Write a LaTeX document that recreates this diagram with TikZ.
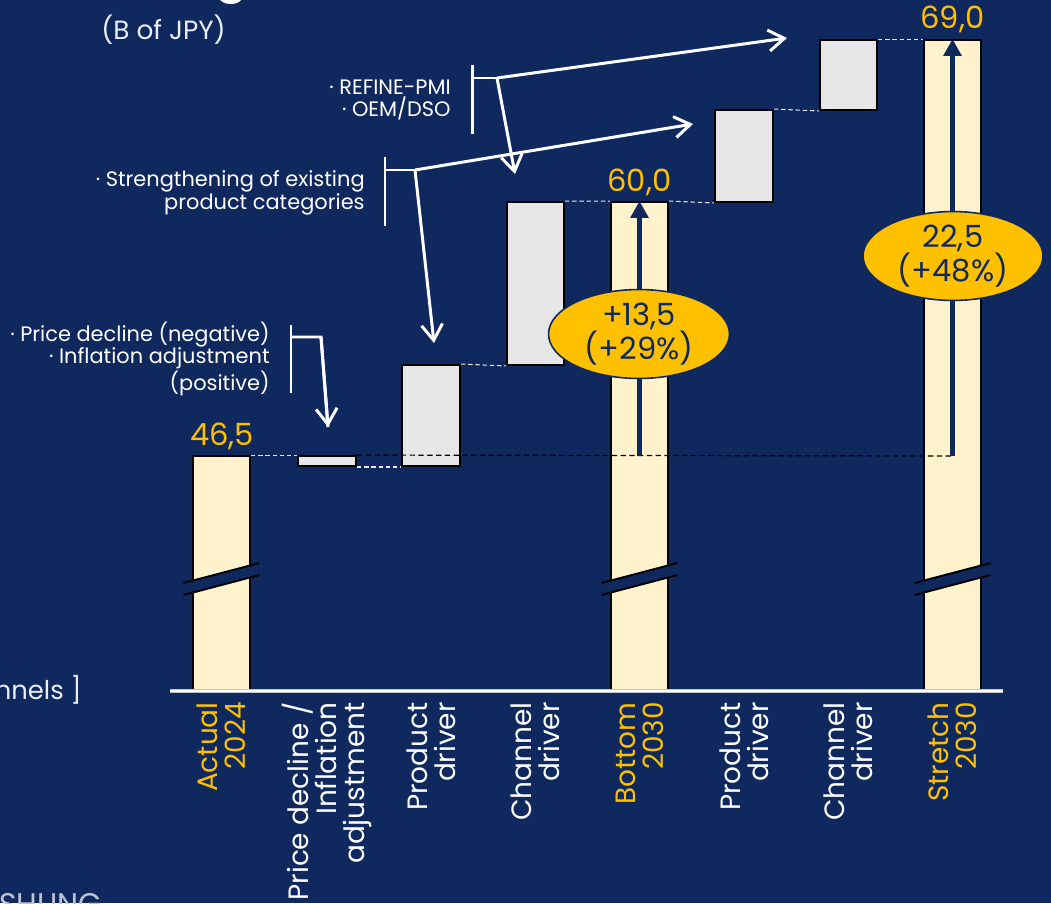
\documentclass[tikz,border=0pt]{standalone}
\usepackage{fontspec}
\setmainfont{Poppins}
\usetikzlibrary{arrows.meta,shapes.geometric,fit}

\definecolor{bg}{RGB}{15,41,94}
\definecolor{gold}{RGB}{255,192,0}
\definecolor{cream}{RGB}{255,242,204}
\definecolor{barfill}{RGB}{230,230,230}
\definecolor{softwhite}{RGB}{235,238,245}
\definecolor{footgray}{RGB}{190,196,210}

\tikzset{
  px/.style={x=0.02cm,y=-0.02cm},
  totalbar/.style={draw=black,line width=1.1pt,fill=cream,inner sep=0pt},
  stepbar/.style={draw=black,line width=1.1pt,fill=barfill,inner sep=0pt},
  conn/.style={draw=barfill,line width=0.6pt,dash pattern=on 2.5pt off 1.6pt},
  baseline dash/.style={draw=black,line width=0.7pt,dash pattern=on 3pt off 2pt},
  growth/.style={draw=bg,line width=2.8pt,-{Triangle[length=9.6pt,width=10pt]}},
  badge/.style={ellipse,fill=gold,draw=bg,line width=0.9pt,text=bg,align=center,
    font=\fontsize{17.4}{16.2}\selectfont,inner sep=0pt},
  value/.style={text=gold,font=\fontsize{17.4}{18}\selectfont,anchor=base},
  cat/.style={rotate=90,anchor=east,align=right,inner sep=0pt,
    font=\fontsize{15.9}{15.9}\selectfont},
  note/.style={text=white,align=right,anchor=east,inner sep=0pt,
    font=\fontsize{11.9}{12.8}\selectfont},
  bracket/.style={draw=white,line width=1.7pt},
  pointer/.style={draw=white,line width=1.7pt,-{Straight Barb[length=9pt,width=12pt]}},
  breakline/.style={draw=black,line width=1.1pt},
}

\begin{document}
\begin{tikzpicture}[px]
\useasboundingbox (0,0) rectangle (1051,903);
\clip (0,0) rectangle (1051,903);
\fill[bg] (0,0) rectangle (1051,903);

% text cut by the frame edges
\node[text=white,font=\fontsize{27}{30}\selectfont\bfseries,anchor=base] (titlecut) at (232,-9) {g};
\node[text=softwhite,font=\fontsize{15}{17}\selectfont,anchor=base west,inner sep=0pt] (unit) at (101,39) {(B of JPY)};
\node[text=softwhite,font=\fontsize{14.7}{16}\selectfont,anchor=east,inner sep=0pt] (legendcut) at (82,690) {nnels ]};
\node[text=footgray,font=\fontsize{17}{18}\selectfont,anchor=north west,inner sep=0pt] (footcut) at (-1,893) {SHUNG};

% bars
\node[totalbar,fit={(193,456) (250,690)}] (actual) {};
\node[stepbar,fit={(298,456) (356,466)}] (price) {};
\node[stepbar,fit={(402,365) (460,466)}] (prodA) {};
\node[stepbar,fit={(507,202) (564,365)}] (chanA) {};
\node[totalbar,fit={(611,202) (668,690)}] (bottom) {};
\node[stepbar,fit={(715,110) (773,202)}] (prodB) {};
\node[stepbar,fit={(820,40) (877,110)}] (chanB) {};
\node[totalbar,fit={(924,40) (981,690)}] (stretch) {};

% axis
\draw[line width=1.8pt,draw=footgray] (170,691) coordinate (axisL) -- (1003,691) coordinate (axisR);
\draw[line width=1.1pt,draw=white] (axisL) -- (axisR);

% axis breaks on the total bars
\foreach \cx in {221.5,639.5,952.5}{
  \fill[bg] (\cx-38,583) -- (\cx+38,563) -- (\cx+38,575) -- (\cx-38,595) -- cycle;
  \draw[breakline] (\cx-38,583) -- (\cx+38,563) (\cx-38,595) -- (\cx+38,575);
}

% step connectors
\draw[conn] (actual.north east) -- (price.north west);
\draw[conn] (price.south east) -- (prodA.south west);
\draw[conn] (prodA.north east) -- (chanA.south west);
\draw[conn] (chanA.north east) -- (bottom.north west);
\draw[conn] (bottom.north east) -- (prodB.south west);
\draw[conn] (prodB.north east) -- (chanB.south west);
\draw[conn] (chanB.north east) -- (stretch.north west);

% 2024 reference level
\coordinate (bBase) at (639.5,456);
\coordinate (sBase) at (952.5,456);
\draw[baseline dash] (price.north east) -- (sBase);

% growth arrows and badges
\draw[growth] (bBase) -- (bottom.north);
\draw[growth] (sBase) -- (stretch.north);
\node[badge,minimum width=3.62cm,minimum height=1.42cm] (gainB) at (639,334) {+13,5\\(+29\%)};
\node[badge,minimum width=3.6cm,minimum height=1.62cm] (gainS) at (953,256) {22,5\\(+48\%)};

% totals
\node[value] (vActual) at (222,445) {46,5};
\node[value] (vBottom) at (639.5,191) {60,0};
\node[value] (vStretch) at (952.5,28) {69,0};

% category labels
\node[cat,text=gold] (cActual) at (221.5,702) {Actual\\2024};
\node[cat,text=white] (cPrice) at (327,702) {Price decline /\\Inflation\\adjustment};
\node[cat,text=white] (cProdA) at (431,702) {Product\\driver};
\node[cat,text=white] (cChanA) at (535.5,702) {Channel\\driver};
\node[cat,text=gold] (cBottom) at (639.5,702) {Bottom\\2030};
\node[cat,text=white] (cProdB) at (744,702) {Product\\driver};
\node[cat,text=white] (cChanB) at (848.5,702) {Channel\\driver};
\node[cat,text=gold] (cStretch) at (952.5,702) {Stretch\\2030};

% driver notes
\node[note] (notePrice) at (270,359) {· Price decline (negative)\\· Inflation adjustment\\(positive)};
\node[note] (noteProd) at (365,193) {· Strengthening of existing\\product categories};
\node[note] (noteChan) at (451,100) {· REFINE-PMI\\· OEM/DSO};

% brackets and pointers
\coordinate (pTop) at (291,325); \coordinate (pBot) at (291,393);
\coordinate (pMid) at (291,337); \coordinate (pJoin) at (321,337);
\coordinate (pEnd) at (328,427);
\draw[bracket] (pTop) -- (pBot);
\draw[bracket,line join=miter] (pMid) -- (pJoin) -- (pEnd);
\draw[pointer] (pJoin) -- (pEnd);

\coordinate (sTop) at (385,157); \coordinate (sBot) at (385,226);
\coordinate (sMid) at (385,170); \coordinate (sJoin) at (415,170);
\coordinate (sDown) at (434,343); \coordinate (sRight) at (693,124);
\draw[bracket] (sTop) -- (sBot);
\draw[bracket] (sMid) -- (sJoin);
\draw[pointer] (sJoin) -- (sDown);
\draw[pointer] (sJoin) -- (sRight);

\coordinate (cTop) at (472,65); \coordinate (cBot) at (472,134);
\coordinate (cMid) at (472,78); \coordinate (cJoin) at (497,78);
\coordinate (cDown) at (515,174); \coordinate (cRight) at (787,38);
\draw[bracket] (cTop) -- (cBot);
\draw[bracket] (cMid) -- (cJoin);
\draw[pointer] (cJoin) -- (cDown);
\draw[pointer] (cJoin) -- (cRight);
\end{tikzpicture}
\end{document}
